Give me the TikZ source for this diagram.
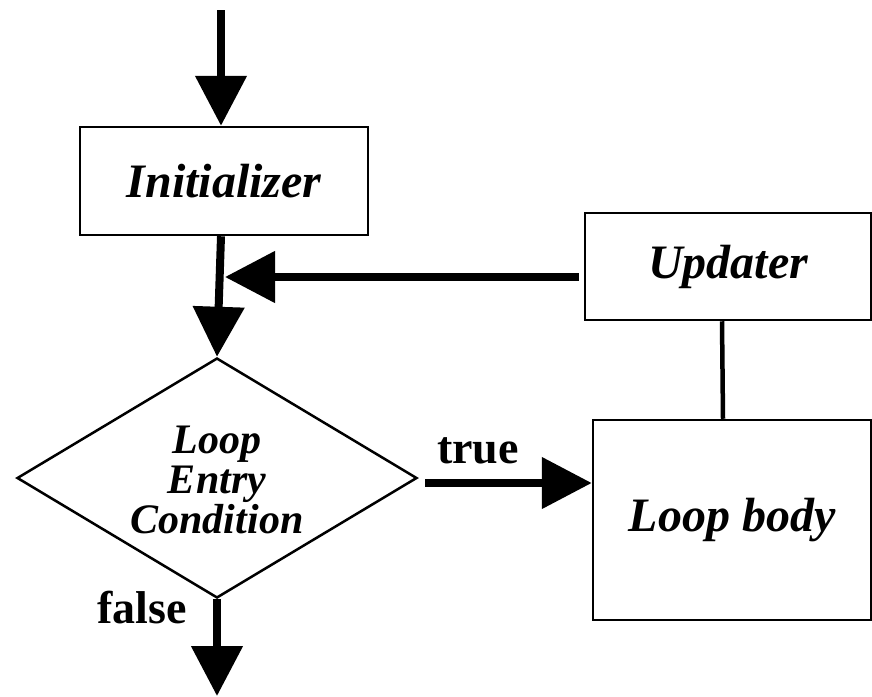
\documentclass[tikz,border=0pt]{standalone}
\usepackage{fontspec}
\setmainfont{Liberation Serif}
\usetikzlibrary{arrows.meta,shapes.geometric}
\begin{document}
\begin{tikzpicture}[x=1pt,y=-1pt,
  boxstyle/.style={draw,line width=2.5pt,inner sep=0pt,font=\fontsize{48}{50}\selectfont\bfseries\itshape},
  diastyle/.style={draw,diamond,line width=2.5pt,inner sep=0pt,minimum width=400pt,minimum height=240pt},
  diatext/.style={align=center,inner sep=0pt,font=\fontsize{42}{40}\selectfont\bfseries\itshape},
  flow/.style={line width=8pt,-{Triangle[width=50pt,length=50pt]}},
  plain/.style={line width=4.5pt},
  lab/.style={font=\fontsize{46}{48}\selectfont\bfseries,inner sep=0pt,anchor=base}]
\useasboundingbox (0,0) rectangle (872,696);
\node[boxstyle,minimum width=288pt,minimum height=108pt] (init) at (224,181) {Initializer};
\node[boxstyle,minimum width=286pt,minimum height=107pt] (upd) at (728,266.5) {Updater};
\node[boxstyle,minimum width=278pt,minimum height=200pt] (body) at (732,520) {Loop body};
\node[diastyle] (dia) at (217,478) {};
\node[diatext] (dtext) at (217,480) {Loop\\Entry\\Condition};
\coordinate (start) at (221,10);
\coordinate (join) at (225,277);
\coordinate (exit) at (217,696);
\draw[flow] (start) -- (start |- init.north);
\draw[flow] (init.south -| start) -- (dia.north);
\draw[flow,shorten <=5pt] (upd.west |- join) -- (join);
\draw[plain] (upd.south -| 722,0) -- (body.north -| 723,0);
\draw[flow,shorten <=7pt] (dia.east |- 0,483) -- (body.west |- 0,483);
\draw[flow] (dia.south) -- (exit);
\node[lab] (t) at (478,463) {true};
\node[lab] (f) at (142,623) {false};
\end{tikzpicture}
\end{document}
